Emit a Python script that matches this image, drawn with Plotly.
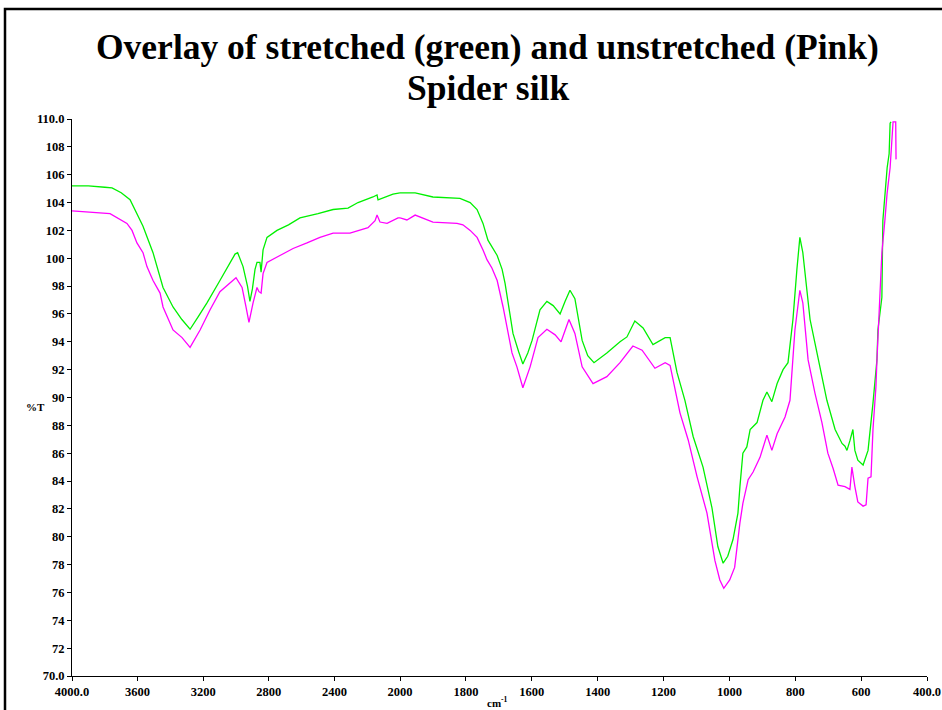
import numpy as np
import plotly.graph_objects as go

# ---- data (wavenumber cm-1, %T) ----
green_wn = [4000, 3900, 3800, 3756, 3700, 3646, 3567, 3506, 3445, 3384, 3330, 3280, 3230, 3177,
            3098, 3040, 3006, 2990, 2957, 2930, 2915, 2900, 2884, 2872, 2854, 2847, 2835, 2811,
            2750, 2680, 2610, 2500, 2408, 2317, 2256, 2165, 2140, 2134, 2100, 2043, 2000,
            1954, 1900, 1818, 1787, 1766, 1748, 1733, 1705, 1690, 1681, 1657, 1640, 1627, 1612,
            1599, 1575, 1554, 1535, 1514, 1499, 1484, 1469, 1447, 1430, 1411, 1372, 1332, 1311,
            1287, 1262, 1232, 1195, 1180, 1159, 1135, 1110, 1080, 1053, 1035, 1019, 1005, 989,
            974, 968, 959, 947, 937, 916, 898, 886, 871, 855, 837, 822, 807, 795, 786, 777, 755,
            734, 704, 679, 658, 649, 643, 634, 625, 619, 610, 594, 579, 564, 552, 549, 537, 534,
            525, 521, 515, 512, 509]
green_t = [105.2, 105.2, 105.1, 105.05, 104.7, 104.2, 102.3, 100.4, 97.9, 96.5, 95.6, 94.9, 95.8, 96.8,
           98.4, 99.6, 100.3, 100.4, 99.4, 98.0, 96.9, 97.8, 99.2, 99.7, 99.7, 99.0, 100.6, 101.5,
           102.0, 102.4, 102.9, 103.2, 103.5, 103.6, 104.0, 104.4, 104.55, 104.2, 104.35, 104.6, 104.7,
           104.7, 104.4, 104.3, 104.0, 103.5, 102.5, 101.3, 100.2, 99.2, 98.2, 94.6, 93.3, 92.4, 93.2,
           94.1, 96.3, 96.9, 96.6, 96.0, 96.9, 97.7, 97.1, 94.1, 93.0, 92.5, 93.2, 94.0, 94.35,
           95.5, 95.0, 93.8, 94.3, 94.3, 91.8, 89.8, 87.2, 85.0, 82.1, 79.3, 78.1, 78.6, 79.8,
           81.7, 83.6, 86.0, 86.45, 87.7, 88.2, 89.8, 90.4, 89.7, 91.0, 92.0, 92.5, 95.6, 99.2, 101.5, 100.4, 95.6,
           93.2, 89.8, 87.7, 86.7, 86.5, 86.2, 86.9, 87.7, 86.2, 85.5, 85.15, 86.2, 89.6, 92.7, 94.85, 97.2, 102.7,
           105.8, 106.5, 107.5, 109.7, 109.8]

pink_wn = [4000, 3768, 3665, 3634, 3604, 3567, 3543, 3506, 3463, 3445, 3384, 3329, 3280, 3219,
           3158, 3098, 3000, 2963, 2939, 2921, 2896, 2872, 2860, 2847, 2835, 2811, 2732, 2652,
           2567, 2488, 2408, 2305, 2195, 2152, 2140, 2122, 2079, 2012, 2000,
           1979, 1954, 1930, 1900, 1827, 1809, 1787, 1766, 1748, 1736, 1721, 1705, 1687, 1660,
           1645, 1627, 1605, 1581, 1554, 1529, 1511, 1499, 1487, 1469, 1447, 1414, 1372, 1332,
           1293, 1265, 1226, 1195, 1180, 1165, 1150, 1125, 1098, 1068, 1044, 1029, 1017, 999,
           984, 968, 959, 943, 928, 907, 886, 871, 855, 831, 816, 801, 786, 777, 761, 740, 719,
           701, 685, 670, 649, 634, 628, 619, 610, 594, 585, 579, 570, 564, 555, 552, 546, 537,
           528, 521, 512, 506, 503, 495, 494]
pink_t = [103.4, 103.2, 102.5, 102.0, 101.1, 100.4, 99.4, 98.4, 97.5, 96.5, 94.85, 94.3, 93.6, 94.85,
          96.3, 97.6, 98.6, 97.9, 96.5, 95.4, 96.8, 97.9, 97.6, 97.5, 98.9, 99.7, 100.2, 100.7,
          101.1, 101.5, 101.8, 101.8, 102.2, 102.7, 103.1, 102.6, 102.5, 102.9, 102.9,
          102.75, 103.1, 102.9, 102.6, 102.5, 102.4, 102.0, 101.5, 100.6, 99.9, 99.3, 98.4, 96.5, 93.2,
          92.2, 90.7, 92.2, 94.3, 94.9, 94.5, 94.0, 94.85, 95.6, 94.6, 92.2, 91.0, 91.5, 92.5,
          93.7, 93.4, 92.1, 92.5, 92.3, 90.6, 88.9, 86.95, 84.3, 81.7, 78.3, 76.9, 76.3, 76.9,
          77.8, 81.0, 82.4, 84.1, 84.65, 85.7, 87.3, 86.2, 87.4, 88.6, 89.8, 94.85, 97.7, 96.8, 92.7, 90.3, 88.2,
          86.0, 84.9, 83.7, 83.6, 83.4, 85.0, 83.6, 82.5, 82.2, 82.3, 84.2, 84.3, 87.7, 90.8, 92.7, 95.6, 100.4,
          102.7, 104.7, 106.5, 109.0, 109.8, 109.8, 107.1]

x1_ticks = [4000, 3600, 3200, 2800, 2400]
x1_text = ["4000.0", "3600", "3200", "2800", "2400"]
x2_ticks = [2000, 1800, 1600, 1400, 1200, 1000, 800, 600, 400]
x2_text = ["2000", "1800", "1600", "1400", "1200", "1000", "800", "600", "400.0"]
y_ticks = list(range(70, 111, 2))
y_text = ["70.0"] + [str(v) for v in range(72, 110, 2)] + ["110.0"]

title_line1 = "Overlay of stretched (green) and unstretched (Pink)"
title_line2 = "Spider silk"

GREEN = "#00f000"
PINK = "#ff00ff"

fig = go.Figure()

def add_series(wn, t, color, name):
    wn = np.array(wn, dtype=float)
    t = np.array(t, dtype=float)
    hi = wn >= 2000
    lo = wn <= 2000
    fig.add_trace(go.Scatter(x=wn[hi], y=t[hi], mode="lines", line=dict(color=color, width=1.3),
                             xaxis="x", yaxis="y", name=name, showlegend=False))
    fig.add_trace(go.Scatter(x=wn[lo], y=t[lo], mode="lines", line=dict(color=color, width=1.3),
                             xaxis="x2", yaxis="y", name=name, showlegend=False))

add_series(green_wn, green_t, GREEN, "stretched")
add_series(pink_wn, pink_t, PINK, "unstretched")

tickfont = dict(family="Liberation Serif", size=12.5, color="black", weight="bold")
split = 328 / 855

axis_common = dict(showline=True, linecolor="black", linewidth=1, ticks="outside", ticklen=4,
                   tickcolor="black", tickwidth=1, showgrid=False, zeroline=False,
                   tickfont=tickfont, fixedrange=True, automargin=False)

fig.update_layout(
    width=942, height=710, autosize=False,
    margin=dict(l=72, r=15, t=119, b=34, autoexpand=False),
    paper_bgcolor="white", plot_bgcolor="white",
    xaxis=dict(domain=[0, split], range=[4000, 2000], tickvals=x1_ticks, ticktext=x1_text,
               anchor="y", **axis_common),
    xaxis2=dict(domain=[split, 1], range=[2000, 400], tickvals=x2_ticks, ticktext=x2_text,
                anchor="y", **axis_common),
    yaxis=dict(range=[70, 110], tickvals=y_ticks, ticktext=y_text, anchor="x", **axis_common),
    showlegend=False,
)

title_font = dict(family="Liberation Serif", size=35.5, color="black", weight="bold")
fig.add_annotation(text=title_line1, xref="paper", yref="paper", x=0.4865, y=(676 - 47) / 557,
                   xanchor="center", yanchor="middle", showarrow=False, font=title_font)
fig.add_annotation(text=title_line2, xref="paper", yref="paper", x=0.4865, y=(676 - 88) / 557,
                   xanchor="center", yanchor="middle", showarrow=False, font=title_font)

fig.add_annotation(text="%T", xref="paper", yref="paper", x=(35 - 72) / 855, y=(676 - 407) / 557,
                   xanchor="center", yanchor="middle", showarrow=False,
                   font=dict(family="Liberation Serif", size=11, color="black", weight="bold"))
fig.add_annotation(text="cm<sup>-1</sup>", xref="paper", yref="paper", x=(497 - 72) / 855,
                   y=(676 - 693) / 557, xanchor="center", yanchor="top", showarrow=False,
                   font=dict(family="Liberation Serif", size=11, color="black", weight="bold"))

# outer frame
fig.add_shape(type="rect", xref="paper", yref="paper",
              x0=(5 - 72) / 855, x1=(946 - 72) / 855, y0=(676 - 720) / 557, y1=(676 - 9) / 557,
              line=dict(color="black", width=2.5), fillcolor="rgba(0,0,0,0)", layer="below")

fig.write_html("out.html",
               config={"responsive": False, "displayModeBar": False},
               post_script="document.body.style.margin='0px';document.body.style.overflow='hidden';")
